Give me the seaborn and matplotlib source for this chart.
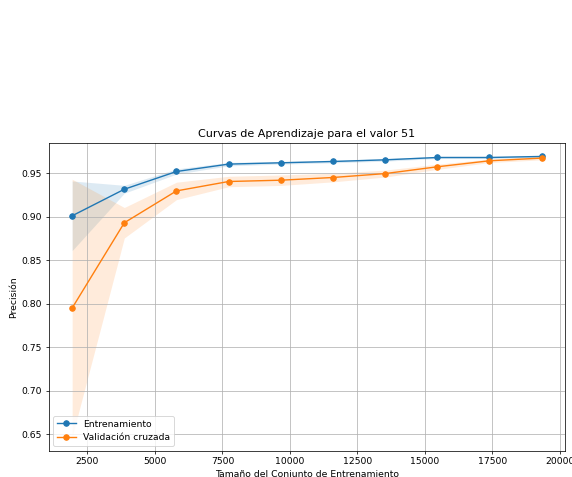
import numpy as np
import pandas as pd
import matplotlib
matplotlib.use("Agg")
import matplotlib.pyplot as plt
import seaborn as sns

# Learning-curve results (mean and std of accuracy per training size)
train_sizes = [1932, 3865, 5798, 7731, 9664, 11596, 13529, 15462, 17395, 19328]
train_mean = [0.901, 0.9315, 0.9519, 0.9604, 0.9619, 0.9634, 0.9653, 0.968, 0.968, 0.9692]
train_std = [0.040, 0.0045, 0.003, 0.002, 0.0015, 0.0015, 0.0015, 0.0012, 0.0012, 0.001]
cv_mean = [0.795, 0.893, 0.9296, 0.9404, 0.9419, 0.945, 0.9495, 0.9573, 0.9642, 0.9673]
cv_std = [0.148, 0.0175, 0.010, 0.006, 0.006, 0.005, 0.004, 0.003, 0.002, 0.002]

title = "Curvas de Aprendizaje para el valor 51"
xlabel = "Tamaño del Conjunto de Entrenamiento"
ylabel = "Precisión"
label_train = "Entrenamiento"
label_cv = "Validación cruzada"

df = pd.DataFrame({
    "size": train_sizes,
    "train": train_mean,
    "train_std": train_std,
    "cv": cv_mean,
    "cv_std": cv_std,
})

W, H = 572, 477
DPI = 66.7
fig = plt.figure(figsize=(W / DPI, H / DPI), dpi=DPI)
ax = fig.add_axes([48.7 / W, 1 - 450.7 / H, 516.3 / W, 308.0 / H])

blue = "#1f77b4"
orange = "#ff7f0e"

ax.fill_between(df["size"], df["train"] - df["train_std"], df["train"] + df["train_std"],
                color=blue, alpha=0.15, linewidth=0)
ax.fill_between(df["size"], df["cv"] - df["cv_std"], df["cv"] + df["cv_std"],
                color=orange, alpha=0.15, linewidth=0)

sns.lineplot(data=df, x="size", y="train", ax=ax, color=blue, marker="o",
             markersize=6, markeredgewidth=1, markeredgecolor=blue, label=label_train)
sns.lineplot(data=df, x="size", y="cv", ax=ax, color=orange, marker="o",
             markersize=6, markeredgewidth=1, markeredgecolor=orange, label=label_cv)

ax.set_ylim(0.631, 0.985)
ax.set_xlim(1062, 20198)
ax.set_xticks([2500, 5000, 7500, 10000, 12500, 15000, 17500, 20000])
ax.set_yticks([0.65, 0.70, 0.75, 0.80, 0.85, 0.90, 0.95])
ax.set_title(title)
ax.set_xlabel(xlabel)
ax.set_ylabel(ylabel)
ax.grid(True)
ax.legend(loc="lower left")

fig.savefig("out.png", dpi=DPI)
